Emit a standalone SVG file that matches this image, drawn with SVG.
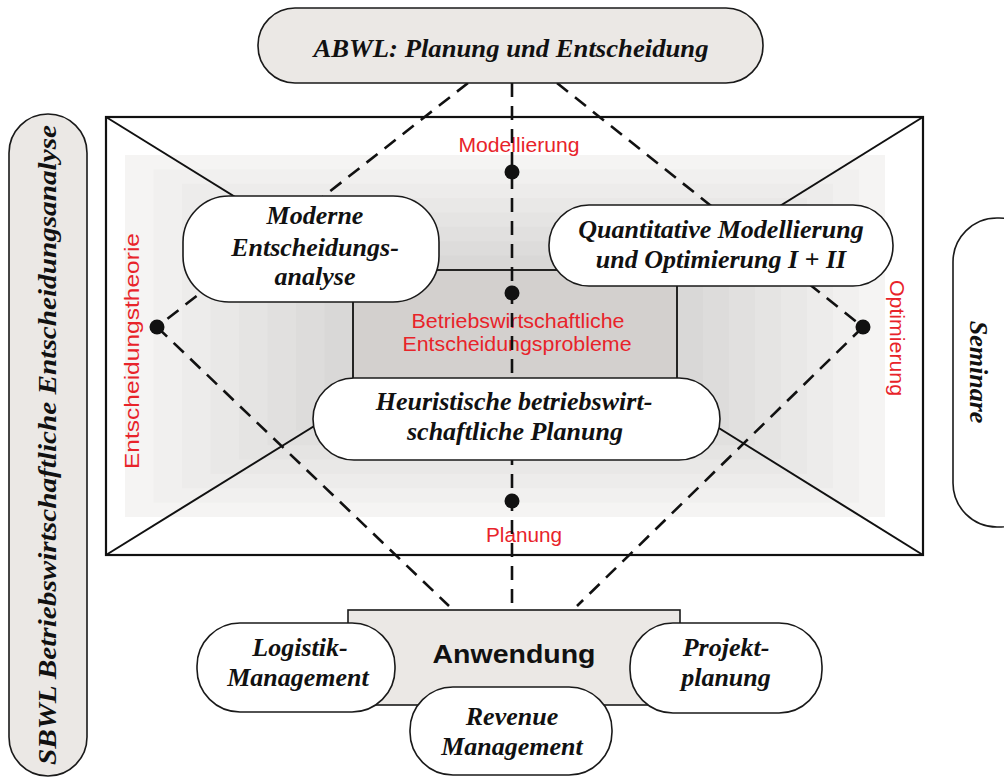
<svg xmlns="http://www.w3.org/2000/svg" width="1004" height="778" viewBox="0 0 1004 778">
<style>
.box{fill:#fff;stroke:#1a1a1a;stroke-width:1.6}
.gbox{fill:#ebe8e5;stroke:#1a1a1a;stroke-width:1.6}
.t{font-family:"Liberation Serif","Times New Roman",serif;font-weight:bold;font-style:italic;font-size:26px;fill:#111;text-anchor:middle}
.r{font-family:"Liberation Sans",Arial,sans-serif;font-size:21px;fill:#e8232a;text-anchor:middle}
.dash{stroke:#111;stroke-width:2.6;stroke-dasharray:14 9;fill:none}
.solid{stroke:#111;stroke-width:2;fill:none}
.dot{fill:#111}
</style>
<rect width="1004" height="778" fill="#fff"/>

<g id="frame">
  <rect x="106" y="117" width="817" height="438" fill="#fff"/>
  <rect x="125" y="155" width="760" height="362" fill="#f5f4f3"/>
  <rect x="153.5" y="169.4" width="705.5" height="333.2" fill="#f1f0ef"/>
  <rect x="182" y="183.75" width="651" height="304.5" fill="#edeceb"/>
  <rect x="210.5" y="198.1" width="596.5" height="275.8" fill="#e9e8e7"/>
  <rect x="239" y="212.5" width="542" height="247" fill="#e5e4e3"/>
  <rect x="267.5" y="226.9" width="487.5" height="218.2" fill="#e1e0df"/>
  <rect x="296" y="241.25" width="433" height="189.5" fill="#dddcdb"/>
  <rect x="324.5" y="255.6" width="378.5" height="160.8" fill="#d9d8d7"/>
  <rect x="106" y="117" width="817" height="438" fill="none" stroke="#111" stroke-width="2.2"/>
  <line class="solid" x1="106" y1="117" x2="353" y2="270"/>
  <line class="solid" x1="923" y1="117" x2="677" y2="270"/>
  <line class="solid" x1="106" y1="555" x2="353" y2="402"/>
  <line class="solid" x1="923" y1="555" x2="677" y2="402"/>
</g>

<g id="problems">
  <rect x="353" y="270" width="324" height="132" fill="#d3d0ce" stroke="#111" stroke-width="1.8"/>
  <text class="r" x="518" y="328" textLength="213" lengthAdjust="spacingAndGlyphs">Betriebswirtschaftliche</text>
  <text class="r" x="517" y="351" textLength="229" lengthAdjust="spacingAndGlyphs">Entscheidungsprobleme</text>
</g>

<g id="labels">
  <text class="r" x="519" y="152" textLength="121" lengthAdjust="spacingAndGlyphs">Modellierung</text>
  <text class="r" x="524" y="542" textLength="76" lengthAdjust="spacingAndGlyphs">Planung</text>
  <text class="r" transform="translate(139,351) rotate(-90)" x="0" y="0" textLength="236" lengthAdjust="spacingAndGlyphs">Entscheidungstheorie</text>
  <text class="r" transform="translate(890,338) rotate(90)" x="0" y="0" textLength="116" lengthAdjust="spacingAndGlyphs">Optimierung</text>
</g>

<g id="connectors">
  <line class="dash" x1="512" y1="83" x2="512" y2="610"/>
  <line class="dash" x1="468" y1="83" x2="157" y2="327"/>
  <line class="dash" x1="557" y1="83" x2="863" y2="327"/>
  <line class="dash" x1="157" y1="327" x2="449" y2="606"/>
  <line class="dash" x1="863" y1="327" x2="577" y2="606"/>
  <circle class="dot" cx="512" cy="172" r="7.5"/>
  <circle class="dot" cx="512" cy="293" r="7.5"/>
  <circle class="dot" cx="157" cy="327" r="7.5"/>
  <circle class="dot" cx="863" cy="327" r="7.5"/>
  <circle class="dot" cx="512" cy="501" r="7.5"/>
</g>

<g id="abwl">
  <rect class="gbox" x="258" y="8" width="505" height="75" rx="37" ry="37"/>
  <text class="t" x="511" y="57" font-size="29" textLength="395" lengthAdjust="spacingAndGlyphs">ABWL: Planung und Entscheidung</text>
</g>

<g id="sbwl">
  <rect class="gbox" x="9" y="114" width="78" height="662" rx="39" ry="39"/>
  <text class="t" transform="translate(56,445) rotate(-90)" x="0" y="0" font-size="28" textLength="640" lengthAdjust="spacingAndGlyphs">SBWL Betriebswirtschaftliche Entscheidungsanalyse</text>
</g>

<g id="seminare">
  <rect class="box" x="953" y="218" width="90" height="309" rx="44" ry="44"/>
  <text class="t" transform="translate(970,372) rotate(90)" x="0" y="0">Seminare</text>
</g>

<g id="moderne">
  <rect class="box" x="183" y="196" width="256" height="106" rx="46" ry="46"/>
  <text class="t" x="315" y="224">Moderne</text>
  <text class="t" x="315" y="256">Entscheidungs-</text>
  <text class="t" x="315" y="285">analyse</text>
</g>

<g id="quantitative">
  <rect class="box" x="549" y="205" width="344" height="81" rx="40" ry="40"/>
  <text class="t" x="721" y="238">Quantitative Modellierung</text>
  <text class="t" x="721" y="268">und Optimierung I + II</text>
</g>

<g id="heuristische">
  <rect class="box" x="313" y="378" width="407" height="82" rx="41" ry="41"/>
  <text class="t" x="514" y="410">Heuristische betriebswirt-</text>
  <text class="t" x="515" y="440">schaftliche Planung</text>
</g>

<g id="anwendung">
  <rect class="gbox" x="348" y="610" width="332" height="95"/>
  <text x="514" y="663" font-family="'Liberation Sans',Arial,sans-serif" font-weight="bold" font-size="26" fill="#111" text-anchor="middle" textLength="163" lengthAdjust="spacingAndGlyphs">Anwendung</text>
</g>

<g id="logistik">
  <rect class="box" x="197" y="623" width="198" height="89" rx="43" ry="43"/>
  <text class="t" x="300" y="656">Logistik-</text>
  <text class="t" x="298" y="686">Management</text>
</g>

<g id="revenue">
  <rect class="box" x="410" y="687" width="202" height="88" rx="43" ry="43"/>
  <text class="t" x="512" y="725">Revenue</text>
  <text class="t" x="512" y="755">Management</text>
</g>

<g id="projekt">
  <rect class="box" x="630" y="623" width="192" height="90" rx="43" ry="43"/>
  <text class="t" x="726" y="656">Projekt-</text>
  <text class="t" x="726" y="686">planung</text>
</g>
</svg>
